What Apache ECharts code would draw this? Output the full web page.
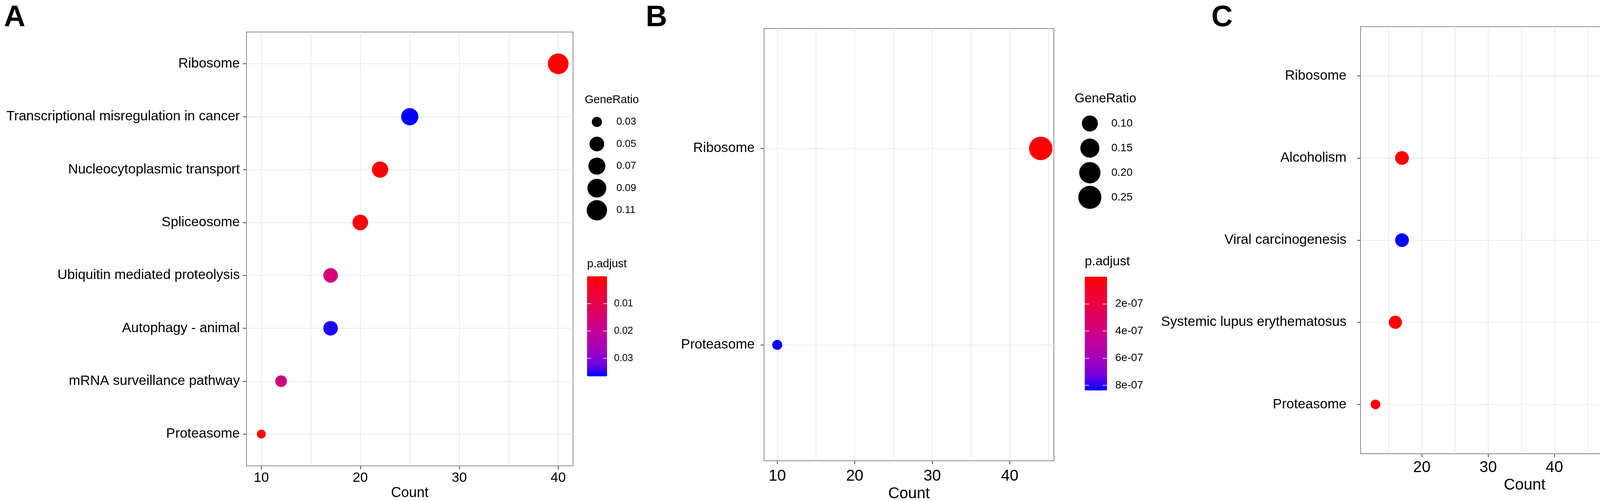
<!DOCTYPE html>
<html><head><meta charset="utf-8">
<script src="https://cdn.jsdelivr.net/npm/echarts@6/dist/echarts.min.js"></script>
<style>html,body{margin:0;padding:0;background:#fff}#c{width:4550px;height:1282px}</style>
</head><body><div id="c"></div>
<script>
// ---------------- DATA ----------------
// Panel A (categories listed bottom -> top)
const catsA = ["Proteasome", "mRNA surveillance pathway", "Autophagy - animal", "Ubiquitin mediated proteolysis",
  "Spliceosome", "Nucleocytoplasmic transport", "Transcriptional misregulation in cancer", "Ribosome"];
const countA = [10, 12, 17, 17, 20, 22, 25, 40];
const ratioA = [0.029, 0.034, 0.049, 0.049, 0.057, 0.063, 0.072, 0.115];
const padjA = [0.0006, 0.017, 0.0355, 0.016, 0.0008, 0.0009, 0.0366, 0.00001];
const countTicksA = [10, 20, 30, 40];
const ratioTicksA = [0.03, 0.05, 0.07, 0.09, 0.11];
const ratioLabelsA = ["0.03", "0.05", "0.07", "0.09", "0.11"];
const padjTicksA = [0.01, 0.02, 0.03];
const padjLabelsA = ["0.01", "0.02", "0.03"];

// Panel B
const catsB = ["Proteasome", "Ribosome"];
const countB = [10, 44];
const ratioB = [0.0588, 0.259];
const padjB = [8.38e-7, 1e-12];
const countTicksB = [10, 20, 30, 40];
const ratioTicksB = [0.10, 0.15, 0.20, 0.25];
const ratioLabelsB = ["0.10", "0.15", "0.20", "0.25"];
const padjTicksB = [2e-7, 4e-7, 6e-7, 8e-7];
const padjLabelsB = ["2e-07", "4e-07", "6e-07", "8e-07"];

// Panel C
const catsC = ["Proteasome", "Systemic lupus erythematosus", "Viral carcinogenesis", "Alcoholism", "Ribosome"];
const countC = [13, 16, 17, 17, 58];
const ratioC = [0.059, 0.073, 0.078, 0.078, 0.265];
const padjC = [0.0003, 0.0008, 0.0294, 0.0006, 1e-10];
const countTicksC = [20, 30, 40, 50, 60];
const ratioTicksC = [0.10, 0.15, 0.20, 0.25];
const ratioLabelsC = ["0.10", "0.15", "0.20", "0.25"];
const padjTicksC = [0.01, 0.02];
const padjLabelsC = ["0.01", "0.02"];

// ---------------- STYLE ----------------
const FONT = '"Liberation Sans", Arial, Helvetica, sans-serif';
const GRIDC = '#EAEAEA';
const TICKC = '#4a4a4a';
const LAB = ['#FF0000', '#F5002A', '#E90044', '#DB0066', '#CA0089', '#B500A5', '#9B00C2', '#7400E0', '#0000FF'];

function sizeScale(ratios, dMin, dMax) {
  const lo = Math.min(...ratios), hi = Math.max(...ratios);
  return r => dMin + (dMax - dMin) * Math.sqrt(Math.max(0, Math.min(1, (r - lo) / (hi - lo))));
}

const panels = [
  { letter: 'A', lx: 10, cats: catsA, count: countA, ratio: ratioA, padj: padjA, countTicks: countTicksA,
    ratioTicks: ratioTicksA, ratioLabels: ratioLabelsA, padjTicks: padjTicksA, padjLabels: padjLabelsA,
    grid: { left: 631, top: 82, width: 836, height: 1110 }, xr: [8.5, 41.5], yr: [0.4, 8.6], xStep: 10, d: [22.7, 53],
    yFont: 35, yMargin: 17, xFont: 35, xMargin: 14, nameFont: 36, nameGap: 52,
    leg: { cx: 1528, top: 283.75, step: 56.5, labelX: 1578, font: 26 },
    bar: { left: 1503, top: 707, w: 51, h: 256, gap: 18, font: 25, tick: 10 },
    titleFont: 29, geneT: [1497, 256], padjT: [1503, 676] },
  { letter: 'B', lx: 1653, cats: catsB, count: countB, ratio: ratioB, padj: padjB, countTicks: countTicksB,
    ratioTicks: ratioTicksB, ratioLabels: ratioLabelsB, padjTicks: padjTicksB, padjLabels: padjLabelsB,
    grid: { left: 1956, top: 73, width: 742, height: 1106 }, xr: [8.3, 45.7], yr: [0.41, 2.61], xStep: 10, d: [25.5, 60],
    yFont: 35, yMargin: 24, xFont: 40, xMargin: 20, nameFont: 40, nameGap: 65,
    leg: { cx: 2790, top: 284.5, step: 63, labelX: 2845, font: 28 },
    bar: { left: 2777, top: 708, w: 57, h: 291, gap: 21, font: 28, tick: 11 },
    titleFont: 33, geneT: [2751, 253], padjT: [2777, 670] },
  { letter: 'C', lx: 3101, cats: catsC, count: countC, ratio: ratioC, padj: padjC, countTicks: countTicksC,
    ratioTicks: ratioTicksC, ratioLabels: ratioLabelsC, padjTicks: padjTicksC, padjLabels: padjLabelsC,
    grid: { left: 3483, top: 68, width: 840, height: 1093 }, xr: [10.75, 60.25], yr: [0.4, 5.6], xStep: 10, d: [24.7, 59.3],
    yFont: 35, yMargin: 36, xFont: 40, xMargin: 16, nameFont: 40, nameGap: 61,
    leg: { cx: 4405, top: 288.8, step: 62.33, labelX: 4460, font: 29 },
    bar: { left: 4386, top: 710, w: 57, h: 288, gap: 21, font: 29, tick: 11 },
    titleFont: 33, geneT: [4371, 256], padjT: [4386, 672] }
];

const grids = [], xAxes = [], yAxes = [], series = [], visualMaps = [], graphics = [];
const txt = { color: '#000', fontFamily: FONT };

panels.forEach(p => {
  const sz = sizeScale(p.ratio, p.d[0], p.d[1]);
  const pmin = Math.min(...p.padj), pmax = Math.max(...p.padj);
  const idx = p.cats.map((c, i) => i + 1);

  // main plot
  let gi = grids.length;
  grids.push(Object.assign({ show: true, borderColor: '#8a8a8a', borderWidth: 2, backgroundColor: 'transparent',
    containLabel: false, outerBoundsMode: 'none' }, p.grid));
  xAxes.push({ gridIndex: gi, type: 'value', min: p.xr[0], max: p.xr[1], minInterval: p.xStep, maxInterval: p.xStep,
    axisLine: { show: false },
    axisTick: { show: true, length: 9, lineStyle: { color: TICKC, width: 2 }, customValues: p.countTicks },
    axisLabel: Object.assign({ customValues: p.countTicks, fontSize: p.xFont, margin: p.xMargin,
      formatter: v => (p.countTicks.indexOf(v) >= 0 ? String(v) : '') }, txt),
    splitLine: { show: true, lineStyle: { color: GRIDC, width: 2 } },
    minorTick: { show: false, splitNumber: 2 },
    minorSplitLine: { show: true, lineStyle: { color: GRIDC, width: 2 } },
    name: 'Count', nameLocation: 'middle', nameGap: p.nameGap, nameMoveOverlap: false,
    nameTextStyle: Object.assign({ fontSize: p.nameFont }, txt) });
  yAxes.push({ gridIndex: gi, type: 'value', min: p.yr[0], max: p.yr[1], minInterval: 1, maxInterval: 1,
    axisLine: { show: false },
    axisTick: { show: true, length: 9, lineStyle: { color: TICKC, width: 2 }, customValues: idx },
    axisLabel: Object.assign({ customValues: idx, fontSize: p.yFont, margin: p.yMargin,
      formatter: v => { const k = Math.round(v); return (Math.abs(k - v) < 1e-6 && p.cats[k - 1]) ? p.cats[k - 1] : ''; } }, txt),
    splitLine: { show: true, lineStyle: { color: GRIDC, width: 2 } } });
  const si = series.length;
  series.push({ type: 'scatter', xAxisIndex: xAxes.length - 1, yAxisIndex: yAxes.length - 1,
    data: p.count.map((c, i) => [c, i + 1, p.padj[i], p.ratio[i]]),
    symbolSize: v => sz(v[3]), itemStyle: { opacity: 1 }, emphasis: { disabled: true }, silent: true, z: 5 });
  visualMaps.push({ type: 'continuous', seriesIndex: si, dimension: 2, min: pmin, max: pmax, inverse: true,
    calculable: false, hoverLink: false, left: p.bar.left, top: p.bar.top, itemWidth: p.bar.w, itemHeight: p.bar.h,
    padding: 0, inRange: { color: LAB }, textStyle: txt });

  // size legend
  gi = grids.length;
  const n = p.ratioTicks.length;
  grids.push({ left: p.leg.cx - 30, top: p.leg.top, width: 60, height: p.leg.step * n, containLabel: false, outerBoundsMode: 'none' });
  xAxes.push({ gridIndex: gi, type: 'value', min: -1, max: 1, show: false });
  yAxes.push({ gridIndex: gi, type: 'category', data: p.ratioLabels, inverse: true, position: 'right',
    axisLine: { show: false }, axisTick: { show: false }, splitLine: { show: false },
    axisLabel: Object.assign({ fontSize: p.leg.font, margin: p.leg.labelX - (p.leg.cx + 30) }, txt) });
  series.push({ type: 'scatter', xAxisIndex: xAxes.length - 1, yAxisIndex: yAxes.length - 1,
    data: p.ratioTicks.map((r, i) => [0, i, r]), symbolSize: v => sz(v[2]),
    itemStyle: { color: '#000', opacity: 1 }, silent: true });

  // colorbar ticks / labels
  gi = grids.length;
  grids.push({ left: p.bar.left, top: p.bar.top, width: p.bar.w, height: p.bar.h, containLabel: false, outerBoundsMode: 'none' });
  xAxes.push({ gridIndex: gi, type: 'value', min: 0, max: 1, show: false });
  const lbl = v => { const k = p.padjTicks.findIndex(t => Math.abs(t - v) <= Math.abs(t) * 1e-6); return k >= 0 ? p.padjLabels[k] : ''; };
  ['left', 'right'].forEach(pos => {
    yAxes.push({ gridIndex: gi, type: 'value', min: pmin, max: pmax, inverse: true, position: pos, z: 10,
      axisLine: { show: false }, splitLine: { show: false },
      axisTick: { show: true, inside: true, length: p.bar.tick, lineStyle: { color: '#fff', width: 1.5 }, customValues: p.padjTicks },
      axisLabel: Object.assign({ show: pos === 'right', customValues: p.padjTicks, formatter: lbl,
        fontSize: p.bar.font, margin: p.bar.gap }, txt) });
  });

  // texts
  graphics.push({ type: 'text', x: p.lx, y: 46, style: { text: p.letter, font: 'bold 76px ' + FONT, fill: '#000',
    verticalAlign: 'middle', textVerticalAlign: 'middle' } });
  graphics.push({ type: 'text', x: p.geneT[0], y: p.geneT[1], style: { text: 'GeneRatio', font: p.titleFont + 'px ' + FONT,
    fill: '#000', verticalAlign: 'middle', textVerticalAlign: 'middle' } });
  graphics.push({ type: 'text', x: p.padjT[0], y: p.padjT[1], style: { text: 'p.adjust', font: p.titleFont + 'px ' + FONT,
    fill: '#000', verticalAlign: 'middle', textVerticalAlign: 'middle' } });
});

const chart = echarts.init(document.getElementById('c'), null, { renderer: 'canvas' });
chart.setOption({
  backgroundColor: '#fff',
  animation: false,
  textStyle: { fontFamily: FONT },
  grid: grids, xAxis: xAxes, yAxis: yAxes, series: series, visualMap: visualMaps, graphic: graphics
});
</script></body></html>
